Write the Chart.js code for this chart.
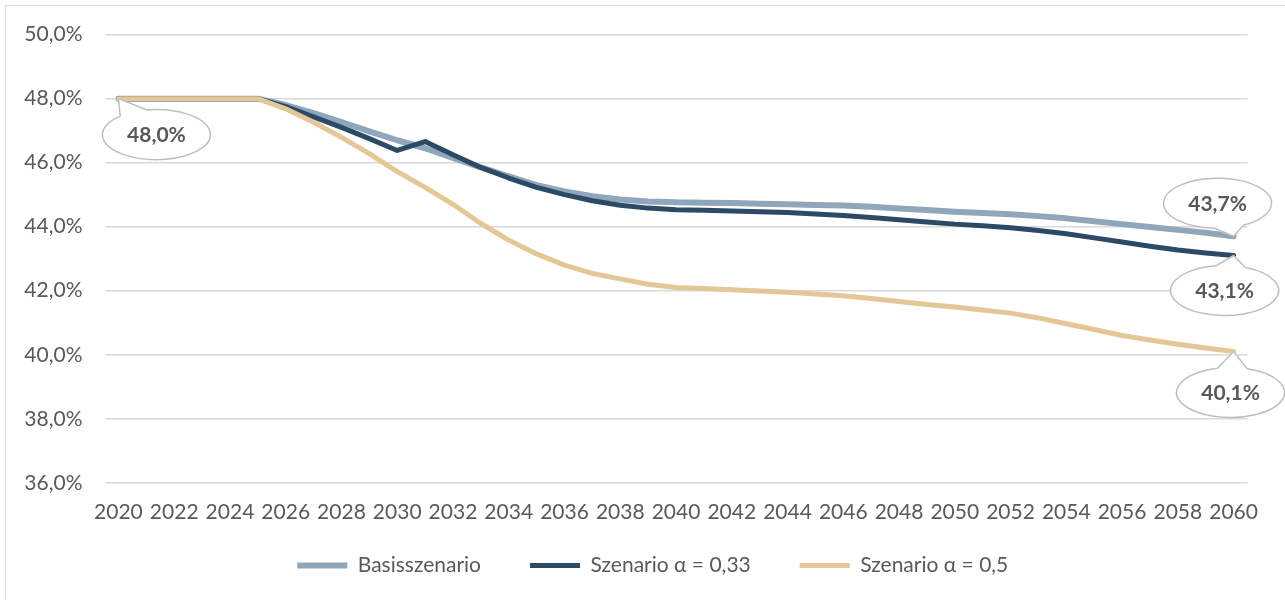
<!DOCTYPE html>
<html>
<head>
<meta charset="utf-8">
<script src="https://cdn.jsdelivr.net/npm/chart.js@4.4.1/dist/chart.umd.min.js"></script>
<style>
  body { margin: 0; background: #fff; overflow: hidden; }
  #frame { position: absolute; left: 5px; top: 5px; width: 1400px; height: 700px; border: 1px solid #d9d9d9; }
  #wrap { position: absolute; left: 0; top: 0; width: 1285px; height: 600px; }
</style>
</head>
<body>
<div id="frame"></div>
<div id="wrap"><canvas id="chart"></canvas></div>
<script>
// years 2020 - 2060
var years = []
for (let y = 2020; y <= 2060; y++) years.push(String(y))

var basis = [48.0, 48.0, 48.0, 48.0, 48.0, 48.0, 47.8, 47.55, 47.27, 46.98,
             46.7, 46.45, 46.15, 45.85, 45.57, 45.3, 45.1, 44.95, 44.85, 44.79,
             44.76, 44.75, 44.74, 44.72, 44.7, 44.68, 44.66, 44.62, 44.57, 44.52,
             44.47, 44.43, 44.39, 44.33, 44.26, 44.17, 44.08, 43.99, 43.9, 43.81, 43.7]

var alpha033 = [48.0, 48.0, 48.0, 48.0, 48.0, 48.0, 47.75, 47.43, 47.1, 46.75,
                46.38, 46.66, 46.25, 45.85, 45.52, 45.23, 45.0, 44.81, 44.67, 44.58,
                44.53, 44.51, 44.49, 44.47, 44.44, 44.4, 44.35, 44.29, 44.22, 44.15,
                44.08, 44.03, 43.97, 43.88, 43.78, 43.65, 43.52, 43.39, 43.27, 43.18, 43.1]

var alpha05 = [48.0, 48.0, 48.0, 48.0, 48.0, 48.0, 47.68, 47.26, 46.79, 46.28,
               45.72, 45.23, 44.7, 44.1, 43.58, 43.15, 42.8, 42.54, 42.37, 42.2,
               42.1, 42.07, 42.03, 41.99, 41.95, 41.9, 41.84, 41.76, 41.66, 41.57,
               41.49, 41.4, 41.3, 41.15, 40.97, 40.79, 40.6, 40.46, 40.33, 40.21, 40.1]

var series_names = ['Basisszenario', 'Szenario \u03b1 = 0,33', 'Szenario \u03b1 = 0,5']

// which points get a callout label: dataset, index, offset of bubble centre
var callouts = [
  {ds: 2, idx: 0, dx: 38, dy: 36},
  {ds: 0, idx: 40, dx: -16, dy: -33},
  {ds: 1, idx: 40, dx: -9, dy: 35},
  {ds: 2, idx: 40, dx: -3, dy: 41}
]

function fmt(v) {
  return v.toFixed(1).replace('.', ',') + '%'
}

Chart.defaults.font.family = 'Lato'
Chart.defaults.color = '#595959'

var calloutPlugin = {
  id: 'callouts',
  afterDatasetsDraw: function(chart) {
    var ctx = chart.ctx
    ctx.save()
    for (let c of callouts) {
      var pt = chart.getDatasetMeta(c.ds).data[c.idx]
      var px = pt.x, py = pt.y
      var cx = px + c.dx, cy = py + c.dy
      var rx = 54, ry = 25
      // angle from centre toward the point (parametric)
      var a = Math.atan2((py - cy) / ry, (px - cx) / rx)
      var d = 0.28
      ctx.beginPath()
      ctx.ellipse(cx, cy, rx, ry, 0, a + d, a - d + Math.PI * 2)
      ctx.lineTo(px, py)
      ctx.closePath()
      ctx.fillStyle = '#ffffff'
      ctx.fill()
      ctx.lineWidth = 1.5
      ctx.strokeStyle = '#bfbfbf'
      ctx.stroke()
      ctx.fillStyle = '#595959'
      ctx.font = 'bold 21px Lato'
      ctx.textAlign = 'center'
      ctx.textBaseline = 'middle'
      var val = chart.data.datasets[c.ds].data[c.idx]
      ctx.fillText(fmt(val), cx, cy + 1)
    }
    ctx.restore()
  }
}

// legend: less empty space above it, centred a bit more to the right
var LEG_CUT = 36
var legendShift = {
  id: 'legendShift',
  afterInit: function(chart) {
    var L = chart.legend
    var f = L.fit
    L.fit = function() {
      f.apply(this, arguments)
      this.height -= LEG_CUT
    }
  },
  afterLayout: function(chart) {
    var L = chart.legend
    L.top -= LEG_CUT
    L.height += LEG_CUT
    L.left = 58
    L.width = L.right - L.left
  }
}

var ctx = document.getElementById('chart')
var chart = new Chart(ctx, {
  type: 'line',
  data: {
    labels: years,
    datasets: [
      {label: series_names[0], data: basis, borderColor: '#8fa6bb', backgroundColor: '#8fa6bb',
       borderWidth: 6, order: 3},
      {label: series_names[1], data: alpha033, borderColor: '#2c4966', backgroundColor: '#2c4966',
       borderWidth: 5, order: 2},
      {label: series_names[2], data: alpha05, borderColor: '#e3c796', backgroundColor: '#e3c796',
       borderWidth: 5, order: 1}
    ]
  },
  options: {
    responsive: true,
    maintainAspectRatio: false,
    animation: false,
    layout: {padding: {top: 34, right: 37.5, left: 0, bottom: 14}},
    elements: {
      point: {radius: 0},
      line: {tension: 0, borderCapStyle: 'round', borderJoinStyle: 'round'}
    },
    scales: {
      x: {
        offset: true,
        grid: {display: false, drawTicks: false},
        border: {display: false},
        ticks: {
          autoSkip: false, maxRotation: 0, padding: 17,
          font: {size: 21},
          callback: function(v, i) { return i % 2 === 0 ? years[i] : '' }
        }
      },
      y: {
        min: 36, max: 50,
        grid: {color: '#d9d9d9', lineWidth: 1.5, drawTicks: false},
        border: {display: false},
        ticks: {stepSize: 2, padding: 22, font: {size: 21}, callback: function(v) { return fmt(v) }},
        afterFit: function(s) { s.width = 104.5 }
      }
    },
    plugins: {
      tooltip: {enabled: false},
      legend: {
        position: 'bottom',
        labels: {
          usePointStyle: true,
          pointStyle: 'line',
          pointStyleWidth: 50,
          font: {size: 21},
          color: '#595959',
          padding: 49,
          sort: function(a, b) { return a.datasetIndex - b.datasetIndex }
        }
      }
    }
  },
  plugins: [calloutPlugin, legendShift]
})
console.log(chart.chartArea)
</script>
</body>
</html>
